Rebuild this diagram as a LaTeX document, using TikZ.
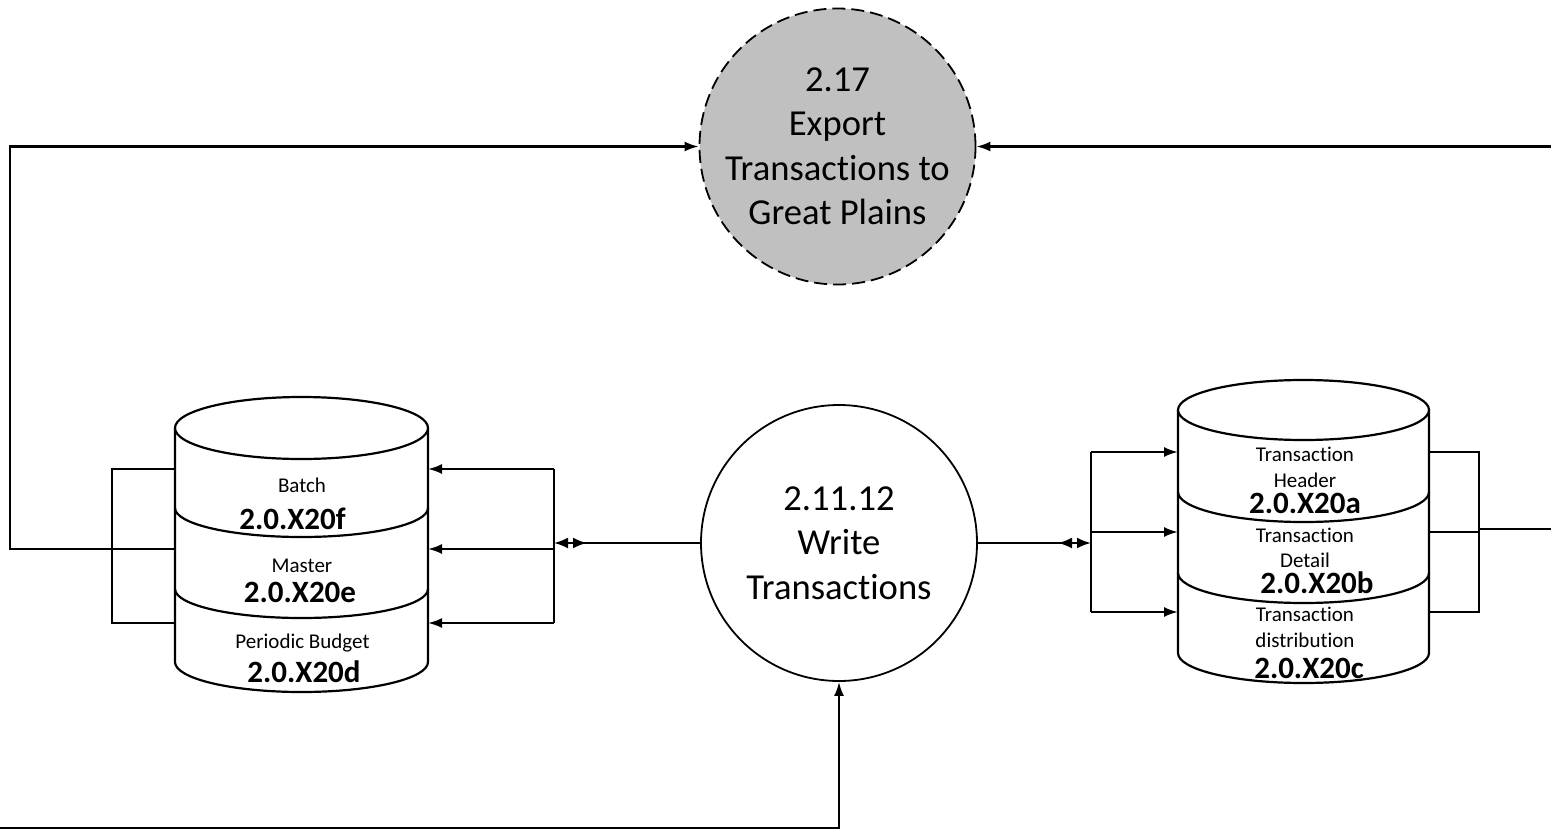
\documentclass[tikz,border=0pt]{standalone}
\usepackage{fontspec}
\setmainfont{Carlito}[Ligatures=NoCommon]
\usetikzlibrary{arrows.meta}
\newcommand\smallf{\fontsize{21}{26}\selectfont}
\newcommand\idf{\fontsize{31}{36}\selectfont\bfseries}
\newcommand\bigf{\fontsize{36.6}{44.5}\selectfont}
\begin{document}
\begin{tikzpicture}[x=1pt,y=-1pt,
  cyl/.style={line width=2.2pt,fill=white,draw=black},
  flow/.style={line width=2.2pt,draw=black},
  tip/.style={-{Latex[length=14pt,width=10pt]}},
  dbl/.style={-{Latex[length=14pt,width=11pt,reversed,sep=5pt]Latex[length=14pt,width=11pt]}},
  proc/.style={circle,draw=black,line width=1.8pt,minimum size=276pt,inner sep=0pt,align=center,font=\bigf},
  lbl/.style={anchor=base,inner sep=0pt,font=\smallf},
  idl/.style={anchor=base,inner sep=0pt,font=\idf}]
\useasboundingbox (0,0) rectangle (1551,830);
% ---------- left cylinder ----------
\filldraw[cyl] (175,428) -- (175,662) arc[start angle=180,end angle=0,x radius=126.5,y radius=30] -- (428,428);
\draw[cyl] (301.5,428) ellipse[x radius=126.5,y radius=31];
\draw[cyl,fill=none] (175,508) arc[start angle=180,end angle=0,x radius=126.5,y radius=29];
\draw[cyl,fill=none] (175,589) arc[start angle=180,end angle=0,x radius=126.5,y radius=29];
\node[lbl] (batch) at (302,492) {Batch};
\node[idl] (x20f) at (292.5,529) {2.0.X20f};
\node[lbl] (master) at (302,572) {Master};
\node[idl] (x20e) at (300,602) {2.0.X20e};
\node[lbl] (pbud) at (302.5,648) {Periodic Budget};
\node[idl] (x20d) at (304,682) {2.0.X20d};
% ---------- right cylinder ----------
\filldraw[cyl] (1178,410) -- (1178,653) arc[start angle=180,end angle=0,x radius=125.5,y radius=30] -- (1429,410);
\draw[cyl] (1303.5,410) ellipse[x radius=125.5,y radius=30];
\draw[cyl,fill=none] (1178,492) arc[start angle=180,end angle=0,x radius=125.5,y radius=30];
\draw[cyl,fill=none] (1178,573) arc[start angle=180,end angle=0,x radius=125.5,y radius=30];
\node[lbl] (th1) at (1305,461) {Transaction};
\node[lbl] (th2) at (1305,487) {Header};
\node[idl] (x20a) at (1305,513) {2.0.X20a};
\node[lbl] (td1) at (1305,542) {Transaction};
\node[lbl] (td2) at (1305,567) {Detail};
\node[idl] (x20b) at (1317,593) {2.0.X20b};
\node[lbl] (tr1) at (1305,621) {Transaction};
\node[lbl] (tr2) at (1305,647) {distribution};
\node[idl] (x20c) at (1309,678) {2.0.X20c};
% ---------- processes ----------
\node[proc,fill={rgb,255:red,192;green,192;blue,192},dashed,dash pattern=on 13pt off 6pt] (exp) at (837.5,146.5)
  {2.17\\Export\\Transactions to\\Great Plains};
\node[proc,fill=white] (wr) at (839,543) {2.11.12\\Write\\Transactions};
% ---------- coordinates ----------
\coordinate (lcL1) at (176,469); \coordinate (lcL2) at (176,549); \coordinate (lcL3) at (176,623);
\coordinate (lbL1) at (112,469); \coordinate (lbL2) at (112,549); \coordinate (lbL3) at (112,623);
\coordinate (lcR1) at (428,469); \coordinate (lcR2) at (428,549); \coordinate (lcR3) at (428,623);
\coordinate (lbR1) at (554,469); \coordinate (lbR2) at (554,549); \coordinate (lbR3) at (554,623);
\coordinate (lbRm) at (554,543);
\coordinate (rcL1) at (1178,452); \coordinate (rcL2) at (1178,532); \coordinate (rcL3) at (1178,612);
\coordinate (rbL1) at (1091,452); \coordinate (rbL2) at (1091,532); \coordinate (rbL3) at (1091,612);
\coordinate (rbLm) at (1091,543);
\coordinate (rcR1) at (1429,452); \coordinate (rcR2) at (1429,532); \coordinate (rcR3) at (1429,612);
\coordinate (rbR1) at (1479,452); \coordinate (rbR2) at (1479,529); \coordinate (rbR3) at (1479,612);
\coordinate (edgeR) at (1551,529);
\coordinate (edgeRT) at (1551,146.5);
\coordinate (leftX) at (10,549);
\coordinate (bottomL) at (0,828);
% ---------- connectors: left ----------
\draw[flow] (lcL1) -- (lbL1) -- (lbL3) -- (lcL3);
\draw[flow] (lcL2) -- (lbL2);
\draw[flow,tip] (lbL2) -- (leftX) |- (exp.west);
\draw[flow] (lbR1) -- (lbR3);
\draw[flow,tip] (lbR1) -- (lcR1);
\draw[flow,tip] (lbR2) -- (lcR2);
\draw[flow,tip] (lbR3) -- (lcR3);
\draw[flow,dbl] (wr.west) -- (lbRm);
% ---------- connectors: right ----------
\draw[flow] (rbL1) -- (rbL3);
\draw[flow,tip] (rbL1) -- (rcL1);
\draw[flow,tip] (rbL2) -- (rcL2);
\draw[flow,tip] (rbL3) -- (rcL3);
\draw[flow,dbl] (wr.east) -- (rbLm);
\draw[flow] (rcR1) -- (rbR1) -- (rbR3) -- (rcR3);
\draw[flow] (rcR2) -- (rbR1 |- rcR2);
\draw[flow] (rbR2) -- (edgeR);
\draw[flow,tip] (edgeRT) -- (exp.east);
% ---------- bottom ----------
\draw[flow,tip] (bottomL) -| (wr.south);
\end{tikzpicture}
\end{document}
